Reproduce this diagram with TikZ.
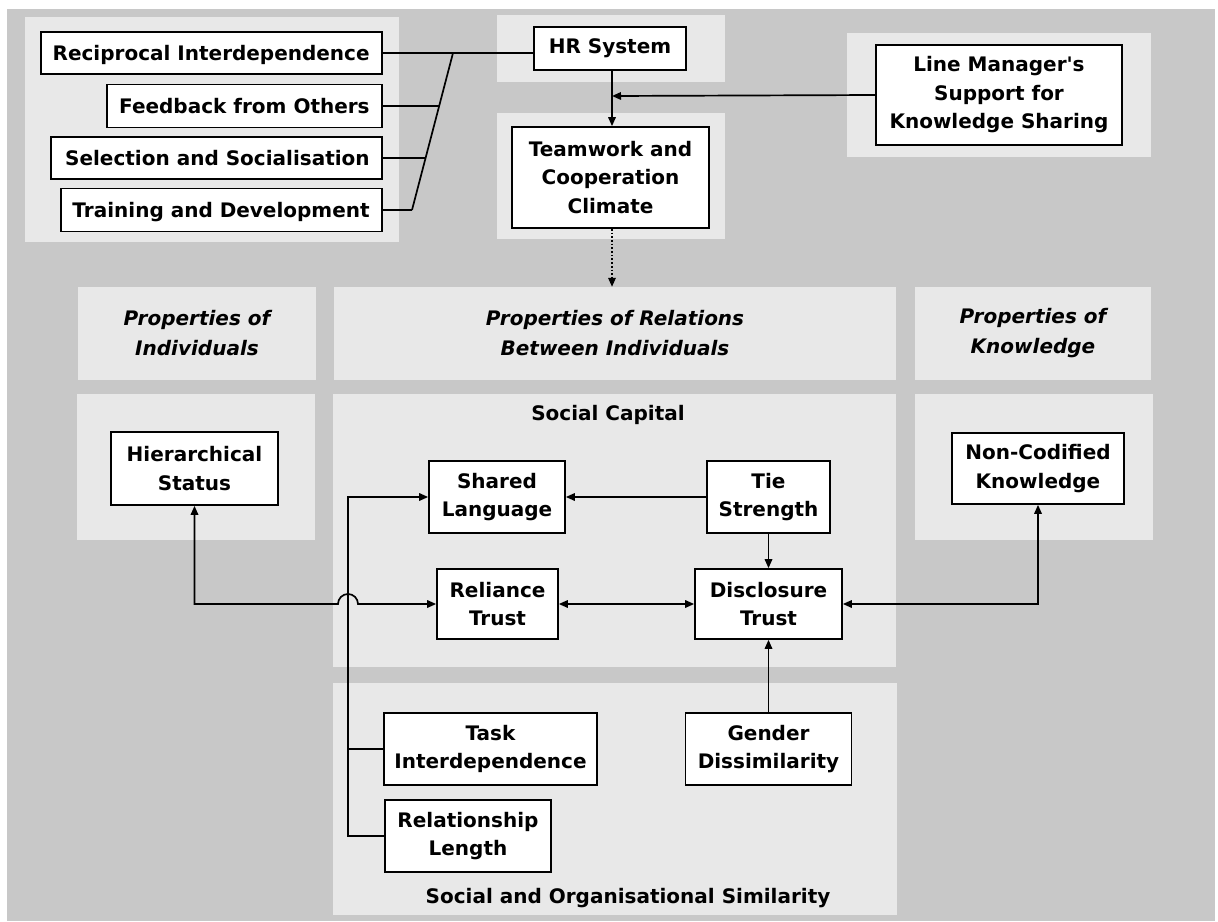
\documentclass[tikz,border=0pt]{standalone}
\usepackage{fontspec}
\setmainfont{DejaVu Sans}
\usetikzlibrary{arrows.meta,calc}
\definecolor{bggray}{HTML}{C8C8C8}
\definecolor{panelgray}{HTML}{E8E8E8}
\begin{document}
\begin{tikzpicture}[x=1pt,y=-1pt,
  panel/.style={fill=panelgray,draw=none},
  box/.style={draw=black,fill=white,line width=1.7pt,align=center,inner sep=0pt,
    font=\fontsize{20}{28.5}\selectfont\bfseries},
  rtext/.style={inner sep=0pt,anchor=east,text height=14.6pt,text depth=0pt,
    font=\fontsize{20}{28.5}\selectfont\bfseries},
  headpanel/.style={fill=panelgray,draw=none,inner sep=0pt,align=center,
    font=\fontsize{20}{30}\selectfont\bfseries\itshape},
  paneltitle/.style={font=\fontsize{20}{28}\selectfont\bfseries},
  link/.style={line width=1.7pt},
  tip/.tip={Triangle[length=9pt,width=7.5pt]},
  arr/.style={link,-tip},
  both/.style={link,tip-tip}
]
% canvas
\useasboundingbox (0,0) rectangle (1218,921);
\fill[white] (0,0) rectangle (1218,921);
\fill[bggray] (7,9) rectangle (1215,921);

% light panels
\fill[panel] (25,17) rectangle (399,242);
\fill[panel] (497,15) rectangle (725,82);
\fill[panel] (497,113) rectangle (725,239);
\fill[panel] (847,33) rectangle (1151,157);
\fill[panel] (77,394) rectangle (315,540);
\fill[panel] (333,394) rectangle (896,667);
\fill[panel] (915,394) rectangle (1153,540);
\fill[panel] (333,683) rectangle (897,915);

% column headings
\node[headpanel,minimum width=238pt,minimum height=93pt] (pind) at (197,333.5) {Properties of\\Individuals};
\node[headpanel,minimum width=562pt,minimum height=93pt] (prel) at (615,333.5) {Properties of Relations\\Between Individuals};
\node[headpanel,minimum width=236pt,minimum height=93pt] (pkno) at (1033,333.5) {Properties of\\Knowledge};

% panel titles
\node[paneltitle] (tcap) at (608,415) {Social Capital};
\node[paneltitle] (tsim) at (628,898) {Social and Organisational Similarity};

% HR practices: boxes with right-aligned labels
\node[box,minimum width=341pt,minimum height=42pt] (recip) at (211.5,53) {};
\node[box,minimum width=275pt,minimum height=43pt] (feed) at (244.5,106) {};
\node[box,minimum width=331pt,minimum height=42pt] (select) at (216.5,158) {};
\node[box,minimum width=321pt,minimum height=43pt] (train) at (221.5,210) {};
\node[rtext] (recipT) at ($(recip.east)+(-13,0)$) {Reciprocal Interdependence};
\node[rtext] (feedT) at ($(feed.east)+(-13,0)$) {Feedback from Others};
\node[rtext] (selectT) at ($(select.east)+(-13,0)$) {Selection and Socialisation};
\node[rtext] (trainT) at ($(train.east)+(-13,0)$) {Training and Development};

\node[box,minimum width=152pt,minimum height=43pt] (hr) at (610,48.5) {HR System};
\node[box,minimum width=197pt,minimum height=101pt] (team) at (610.5,177.5) {Teamwork and\\Cooperation\\Climate};
\node[box,minimum width=246pt,minimum height=100pt] (lm) at (999,95) {Line Manager\textquotesingle s\\Support for\\Knowledge Sharing};

% individual and knowledge properties
\node[box,minimum width=167pt,minimum height=73pt] (hier) at (194.5,468.5) {Hierarchical\\Status};
\node[box,minimum width=172pt,minimum height=71pt] (noncod) at (1038,468.5) {Non-Codified\\Knowledge};

% social capital
\node[box,minimum width=136pt,minimum height=72pt] (shared) at (497,497) {Shared\\Language};
\node[box,minimum width=123pt,minimum height=72pt] (tie) at (768.5,497) {Tie\\Strength};
\node[box,minimum width=121pt,minimum height=70pt] (rel) at (497.5,604) {Reliance\\Trust};
\node[box,minimum width=147pt,minimum height=70pt] (disc) at (768.5,604) {Disclosure\\Trust};

% social and organisational similarity
\node[box,minimum width=213pt,minimum height=72pt] (task) at (490.5,749) {Task\\Interdependence};
\node[box,minimum width=166pt,minimum height=72pt] (gender) at (768.5,749) {Gender\\Dissimilarity};
\node[box,minimum width=166pt,minimum height=72pt] (rlen) at (468,836) {Relationship\\Length};

% HR bundle
\coordinate (bundleTop) at (453,53);
\coordinate (bundleBot) at (412,210);
\coordinate (jf) at (439,106);
\coordinate (js) at (425.6,158);
\draw[link] (recip.east) -- (recip.east -| hr.west);
\draw[link] (bundleTop) -- (bundleBot);
\draw[link] (feed.east) -- (jf);
\draw[link] (select.east) -- (js);
\draw[link] (train.east) -- (bundleBot);

% climate chain
\coordinate (lmjoin) at (612,96);
\draw[arr] (hr.south -| lmjoin) -- (team.north -| lmjoin);
\draw[arr] (lm.west) -- (lmjoin);
\draw[link,dotted,-tip] (team.south -| lmjoin) -- (prel.north -| lmjoin);

% relations inside the model
\coordinate (vx) at (348,0);
\draw[arr] (tie.west) -- (shared.east);
\draw[arr] (tie.south) -- (disc.north);
\draw[both] (rel.east) -- (disc.west);
\draw[arr] (gender.north) -- (disc.south);
\draw[both] (hier.south) |- ($(rel.west -| vx)+(-10,0)$)
  arc[start angle=180,end angle=0,radius=10pt] -- (rel.west);
\draw[both] (disc.east) -| (noncod.south);
\draw[arr] (rlen.west) -- (rlen.west -| vx) |- (shared.west);
\draw[link] (task.west) -- (task.west -| vx);
\end{tikzpicture}
\end{document}
